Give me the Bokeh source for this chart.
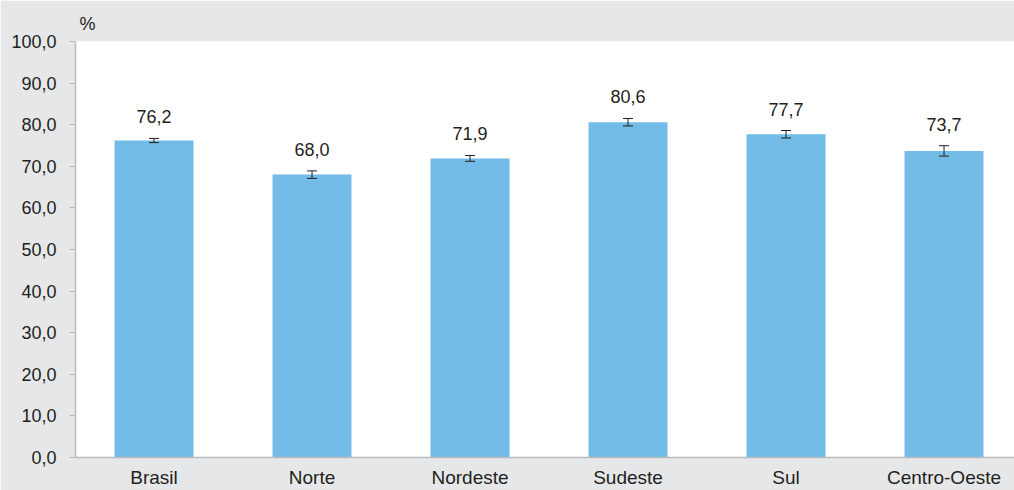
from bokeh.plotting import figure
from bokeh.models import ColumnDataSource, Range1d, FixedTicker, Whisker
from bokeh.embed import file_html
from bokeh.resources import INLINE

categories = ["Brasil", "Norte", "Nordeste", "Sudeste", "Sul", "Centro-Oeste"]
values = [76.2, 68.0, 71.9, 80.6, 77.7, 73.7]
errors = [0.5, 0.9, 0.7, 0.9, 0.9, 1.25]
value_labels = ["76,2", "68,0", "71,9", "80,6", "77,7", "73,7"]
y_ticks = [0, 10, 20, 30, 40, 50, 60, 70, 80, 90, 100]
y_tick_labels = ["0,0", "10,0", "20,0", "30,0", "40,0", "50,0", "60,0", "70,0", "80,0", "90,0", "100,0"]

FONT = "Liberation Sans"
BG = "#e6e7e9"
TXT = "#231f20"
AX = "#b9babc"

xs = list(range(len(categories)))
src = ColumnDataSource(dict(
    x=xs, top=values,
    lower=[v - e for v, e in zip(values, errors)],
    upper=[v + e for v, e in zip(values, errors)],
    lab=value_labels,
))

p = figure(width=1014, height=490, output_backend="svg", toolbar_location=None,
           x_range=Range1d(-0.497, 5.446), y_range=Range1d(0, 100),
           min_border_left=75, min_border_right=0, min_border_top=41, min_border_bottom=33,
           title="%")
p.background_fill_color = "white"
p.border_fill_color = BG
p.outline_line_color = None
p.xgrid.grid_line_color = None
p.ygrid.grid_line_color = None

p.title.text_font = FONT
p.title.text_font_size = "18px"
p.title.text_font_style = "normal"
p.title.text_color = TXT
p.title.align = "left"
p.title.offset = 4
p.title.standoff = 15

p.vbar(x="x", top="top", width=0.5, source=src, fill_color="#72bce7", line_color=None)

w = Whisker(source=src, base="x", lower="lower", upper="upper",
            line_color=TXT, line_width=1, level="overlay")
w.upper_head.size = 10
w.lower_head.size = 10
w.upper_head.line_color = TXT
w.lower_head.line_color = TXT
p.add_layout(w)

p.text(x="x", y="upper", text="lab", source=src, text_align="center",
       text_baseline="bottom", y_offset=-15, text_font_size="18px",
       text_color=TXT, text_font={"value": FONT})

# y axis
p.yaxis.ticker = FixedTicker(ticks=y_ticks)
p.yaxis.major_label_overrides = {t: l for t, l in zip(y_ticks, y_tick_labels)}
p.yaxis.major_label_text_font = FONT
p.yaxis.major_label_text_font_size = "18px"
p.yaxis.major_label_text_color = TXT
p.yaxis.axis_line_color = AX
p.yaxis.axis_line_width = 1.5
p.yaxis.major_tick_line_color = AX
p.yaxis.major_tick_out = 6
p.yaxis.major_tick_in = 0
p.yaxis.minor_tick_line_color = None
p.yaxis.major_label_standoff = 13

# x axis
p.xaxis.ticker = FixedTicker(ticks=xs)
p.xaxis.major_label_overrides = {i: c for i, c in zip(xs, categories)}
p.xaxis.major_label_text_font = FONT
p.xaxis.major_label_text_font_size = "19px"
p.xaxis.major_label_text_color = TXT
p.xaxis.axis_line_color = AX
p.xaxis.axis_line_width = 1.5
p.xaxis.major_tick_line_color = None
p.xaxis.minor_tick_line_color = None
p.xaxis.major_label_standoff = 3

open("out.html", "w").write(file_html(p, INLINE))
